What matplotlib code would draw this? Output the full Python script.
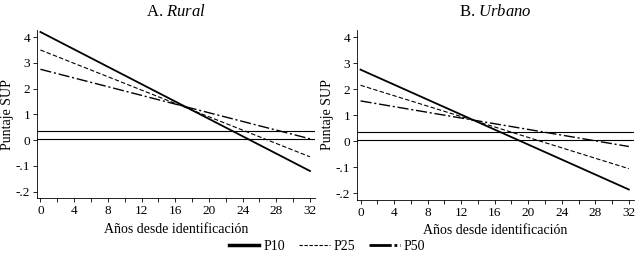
import matplotlib
matplotlib.use("Agg")
import matplotlib.pyplot as plt
from matplotlib.lines import Line2D

plt.rcParams["font.family"] = ["Liberation Serif", "DejaVu Serif"]
plt.rcParams["mathtext.fontset"] = "custom"
plt.rcParams["mathtext.it"] = "Liberation Serif:italic"
plt.rcParams["mathtext.rm"] = "Liberation Serif"

# Years since identification (line end points)
years = [0, 32]

# Rural panel
rural_p10 = [4.2, -1.2]
rural_p25 = [3.5, -0.65]
rural_p50 = [2.75, 0.05]
rural_refs = [0.35, 0.05]

# Urban panel
urban_p10 = [2.75, -1.85]
urban_p25 = [2.15, -1.05]
urban_p50 = [1.55, -0.2]
urban_refs = [0.37, 0.05]

ytick_vals = [4, 3, 2, 1, 0, -1, -2]
ytick_labels = ["4", "3", "2", "1", "0", "-.1", "-.2"]
xtick_vals = list(range(0, 33, 4))

STYLES = {
    "P10": dict(color="black", linewidth=1.3, linestyle="-"),
    "P25": dict(color="black", linewidth=0.8, linestyle=(0, (4, 2))),
    "P50": dict(color="black", linewidth=1.0, linestyle=(0, (8, 2, 1.5, 2))),
}

fig = plt.figure(figsize=(6.39, 2.59), dpi=100)
ax_a = fig.add_axes([0.058, 0.2355, 0.435, 0.648])
ax_b = fig.add_axes([0.559, 0.228, 0.433, 0.656])


def draw_panel(ax, p10, p25, p50, refs, title):
    for y in refs:
        ax.axhline(y, color="black", linewidth=0.8)
    ax.plot(years, p10, **STYLES["P10"])
    ax.plot(years, p25, **STYLES["P25"])
    ax.plot(years, p50, **STYLES["P50"])
    ax.set_xlim(-0.4, 32.6)
    ax.set_ylim(-2.25, 4.27)
    ax.set_xticks(xtick_vals)
    ax.set_xticks(range(0, 33, 2), minor=True)
    ax.set_yticks(ytick_vals)
    ax.set_yticklabels(ytick_labels)
    ax.tick_params(axis="both", labelsize=9.5, length=3, width=0.6, pad=2)
    ax.tick_params(axis="x", which="minor", length=3, width=0.6)
    ax.spines["top"].set_visible(False)
    ax.spines["right"].set_visible(False)
    for s in ("left", "bottom"):
        ax.spines[s].set_linewidth(0.6)
    ax.set_xlabel("Años desde identificación", fontsize=10, labelpad=4)
    ax.set_ylabel("Puntaje SUP", fontsize=10, labelpad=1)
    ax.set_title(title, fontsize=12, pad=10)


draw_panel(ax_a, rural_p10, rural_p25, rural_p50, rural_refs, r"A. $\it{Rural}$")
draw_panel(ax_b, urban_p10, urban_p25, urban_p50, urban_refs, r"B. $\it{Urbano}$")

handles = [
    Line2D([], [], color="black", linewidth=2.5, linestyle="-"),
    Line2D([], [], color="black", linewidth=0.8, linestyle=(0, (3, 1.5))),
    Line2D([], [], color="black", linewidth=2.0, linestyle=(0, (8, 1, 1, 1))),
]
fig.legend(handles, ["P10", "P25", "P50"], loc="center", bbox_to_anchor=(0.512, 0.05),
           ncol=3, frameon=False, fontsize=10, handlelength=2.2, columnspacing=1.0,
           handletextpad=0.3)

fig.savefig("out.png", dpi=100)
plt.close(fig)
